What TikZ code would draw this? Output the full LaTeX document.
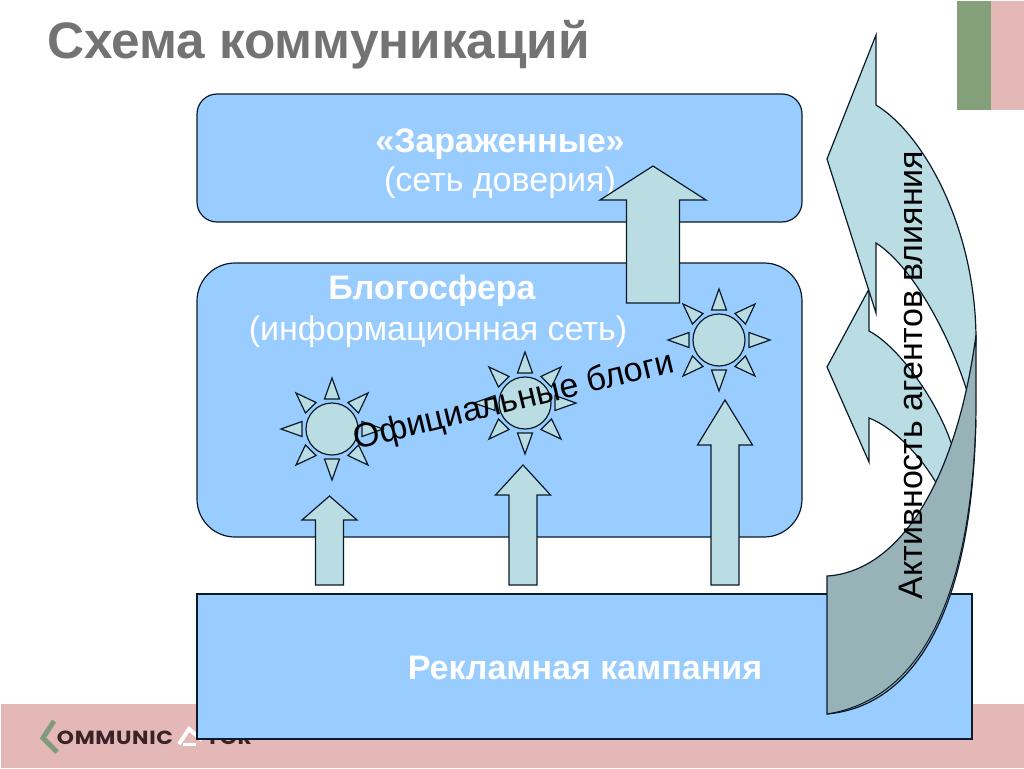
\documentclass[tikz,border=0pt]{standalone}
\usepackage{fontspec}
\setmainfont{Liberation Sans}
\newfontfamily\logofont{Poppins}
\usetikzlibrary{positioning}
\definecolor{boxblue}{HTML}{99CCFF}
\definecolor{lightshape}{HTML}{B9DDE3}
\definecolor{darkshape}{HTML}{97B3B7}
\definecolor{bandpink}{HTML}{E5B8B8}
\definecolor{bandgreen}{HTML}{84A07B}
\definecolor{edgeline}{HTML}{0B1A2B}
\definecolor{logotext}{HTML}{3A2226}
\newcommand{\fs}[1]{\fontsize{#1}{#1}\selectfont}
% block arrow: tip x, tip y, head half width, head base y, bottom y, shaft half width
\newcommand{\uparrowshape}[6]{
  \draw[shapeline] (#1,#2) -- (#1+#3,#4) -- (#1+#6,#4) -- (#1+#6,#5)
    -- (#1-#6,#5) -- (#1-#6,#4) -- (#1-#3,#4) -- cycle;
}
\tikzset{
  shapeline/.style={draw=edgeline,line width=1.2pt,fill=lightshape,line join=miter},
  bluebox/.style={draw=edgeline,line width=1.2pt,fill=boxblue},
  whitetext/.style={text=white,align=center,inner sep=0pt},
  blacktext/.style={text=black,inner sep=0pt},
  logotype/.style={inner sep=0pt,text=logotext,xscale=1.15}
}
\begin{document}
\begin{tikzpicture}[x=1pt,y=-1pt]
  \useasboundingbox (0,0) rectangle (1024,768);
  \fill[white] (0,0) rectangle (1024,768);

  % background bands
  \fill[bandpink] (1,704) rectangle (1024,768);
  \fill[bandgreen] (957,1) rectangle (991,110);
  \fill[bandpink] (991,1) rectangle (1024,110);

  % logo
  \draw[bandgreen!80!gray,line width=5pt] (54,721) -- (43,738) -- (57,752);
  \node[logotype] (logoa) at (115,738) {\logofont\bfseries\fs{19}\addfontfeature{LetterSpace=3}OMMUNIC};
  \node[logotype] (logob) at (229,738) {\logofont\bfseries\fs{19}\addfontfeature{LetterSpace=3}TOR};
  \draw[white,line width=4pt] (179,744) -- (189,729) -- (202,740);
  \draw[white,line width=3pt] (183,744) -- (196,744);

  % title
  \node[inner sep=0pt,text=black!55] (title) at (318.5,45) {\bfseries\fs{51.3}Схема коммуникаций};

  % boxes
  \draw[bluebox,rounded corners=20pt] (197,94) rectangle (802,222);
  \draw[bluebox,rounded corners=38pt] (197,263) rectangle (802,537);
  \draw[bluebox] (197,594) rectangle (972,739);

  \node[whitetext] (zar) at (500,144) {\bfseries\fs{34}«Зараженные»};
  \node[whitetext] (trust) at (500,183) {\fs{34}(сеть доверия)};
  \node[whitetext] (blog) at (432,291) {\bfseries\fs{34}Блогосфера};
  \node[whitetext] (info) at (438,332) {\fs{34}(информационная сеть)};
  \node[whitetext] (promo) at (585,668) {\bfseries\fs{34}Рекламная кампания};

  % arrows
  \uparrowshape{329.5}{496}{27.5}{520}{585}{14}
  \uparrowshape{523}{465}{27.5}{495}{585}{14}
  \uparrowshape{725}{400}{27.5}{445}{585}{14}
  \uparrowshape{653}{166}{53}{200}{303}{26.5}

  % suns
  \foreach \cx/\cy in {332/429,525/403,719/340} {
    \begin{scope}[shift={(\cx,\cy)}]
      \draw[shapeline] (0,0) circle (26);
      \foreach \a in {0,45,...,315} {
        \draw[shapeline,rotate=\a] (-7.5,-30) -- (0,-51) -- (7.5,-30) -- cycle;
      }
    \end{scope}
  }

  % curved arrows
  \draw[shapeline] (869,289) -- (827,367) -- (869,462) -- (869,418)
    .. controls (895,428) and (925,460) .. (941,492)
    -- (956,460) .. controls (945,410) and (900,347) .. (869,331) -- cycle;
  \draw[shapeline] (876,35) -- (827,159) -- (876,313) -- (876,243)
    .. controls (915,268) and (955,345) .. (971,405)
    -- (976,340) .. controls (976,230) and (925,135) .. (876,105) -- cycle;
  \draw[shapeline,fill=darkshape] (827,576)
    .. controls (895,572) and (955,490) .. (976,335)
    -- (976,400) .. controls (976,610) and (915,706) .. (827,714) -- cycle;
  \draw[draw=edgeline,line width=1pt] (976,420) .. controls (970,610) and (915,700) .. (827,714);

  % slanted labels
  \node[blacktext,rotate=13.6] (official) at (514,402) {\fs{34}Официальные блоги};
  \node[blacktext,rotate=90] (agents) at (911,375) {\fs{34}Активность агентов влияния};
\end{tikzpicture}
\end{document}
